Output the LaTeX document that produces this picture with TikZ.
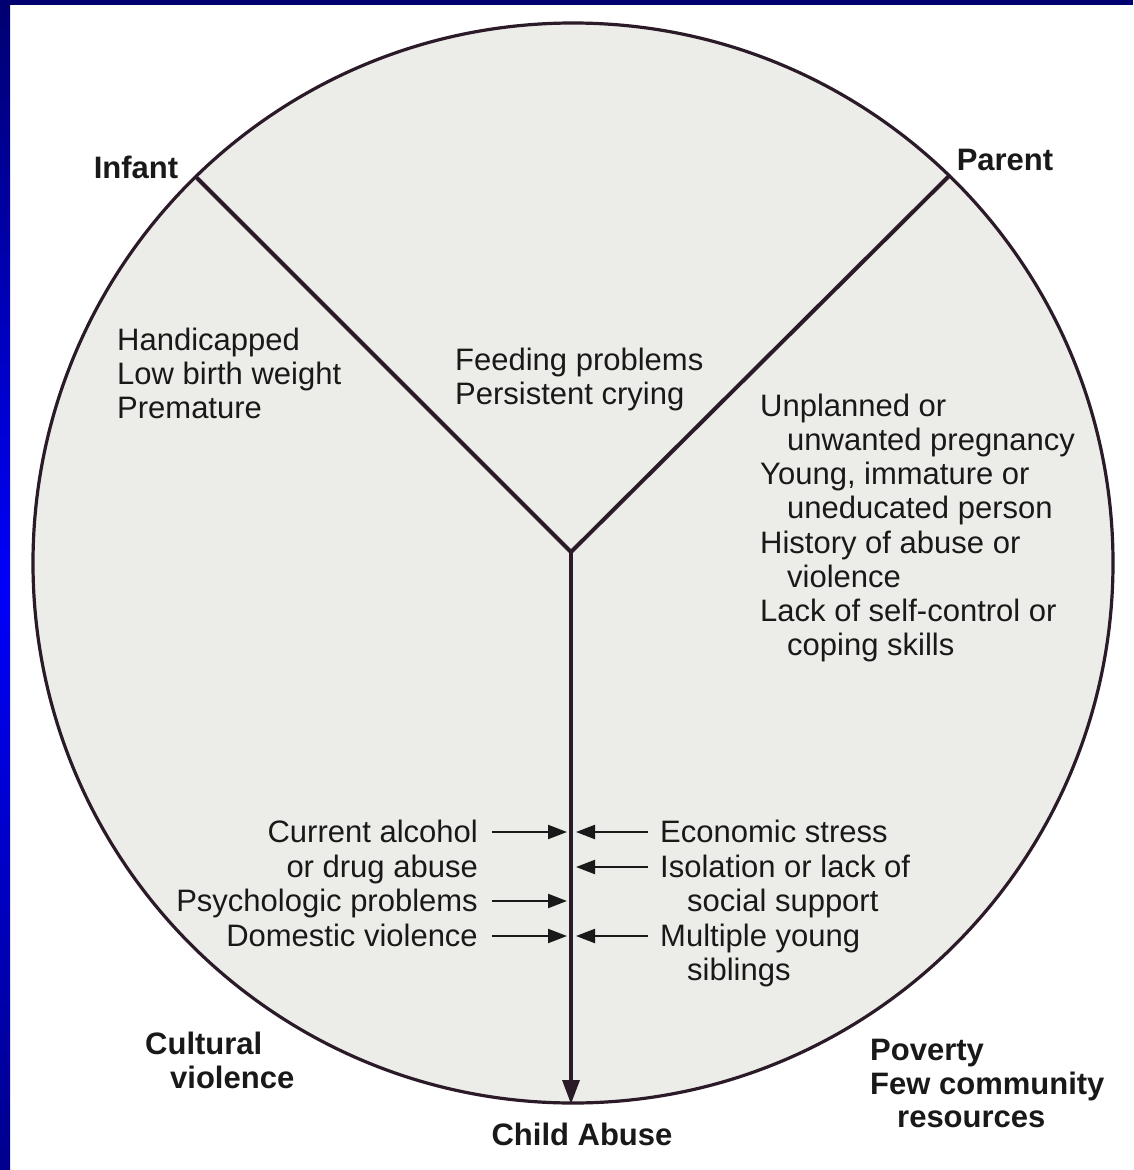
\documentclass[tikz,border=0pt]{standalone}
\usepackage{fontspec}
\setmainfont{Liberation Sans}
\usetikzlibrary{arrows.meta}
\definecolor{navy}{RGB}{0,0,112}
\definecolor{brightblue}{RGB}{0,0,250}
\definecolor{bottomblue}{RGB}{0,0,140}
\definecolor{disc}{RGB}{236,237,232}
\definecolor{ink}{RGB}{43,26,40}
\definecolor{txt}{RGB}{25,25,25}
\tikzset{
  body/.style={font=\fontsize{31}{34}\selectfont, text=txt, inner sep=0pt},
  head/.style={font=\fontsize{31}{34}\selectfont\bfseries, text=txt, inner sep=0pt},
  spoke/.style={draw=ink, line width=4pt, line cap=round},
  feed/.style={draw=txt, line width=2.2pt, -{Triangle[length=19pt,width=14pt]}},
}
\begin{document}
\begin{tikzpicture}[x=1pt,y=-1pt]
\useasboundingbox (0,0) rectangle (1133,1170);
\fill[white] (0,0) rectangle (1133,1170);
\shade[top color=navy, bottom color=bottomblue, middle color=brightblue] (0,0) rectangle (10,1170);
\fill[navy] (0,0) rectangle (1133,5);

% disc
\fill[disc] (573,563) circle[radius=540];
\draw[ink, line width=3.2pt] (573,563) circle[radius=540];

\coordinate (J) at (571,552);
\coordinate (inf) at (197,178);
\coordinate (par) at (949,176);
\coordinate (bot) at (571,1104);
\draw[spoke] (inf) -- (J) -- (par);
\draw[draw=ink, line width=3.2pt, -{Triangle[length=24pt,width=17pt]}] (J) -- (bot);

% headings
\node[head, anchor=base] (tinf) at (136,178) {Infant};
\node[head, anchor=base] (tpar) at (1005,170) {Parent};
\node[head, anchor=base west] (tcul1) at (145,1054) {Cultural};
\node[head, anchor=base west] (tcul2) at (170,1088) {violence};
\node[head, anchor=base west] (tpov1) at (870,1060) {Poverty};
\node[head, anchor=base west] (tpov2) at (870,1094) {Few community};
\node[head, anchor=base west] (tpov3) at (897,1127) {resources};
\node[head, anchor=base] (tca) at (582,1145) {Child Abuse};

% infant factors
\node[body, anchor=base west] (i1) at (117,350) {Handicapped};
\node[body, anchor=base west] (i2) at (117,384) {Low birth weight};
\node[body, anchor=base west] (i3) at (117,418) {Premature};

% middle
\node[body, anchor=base west] (m1) at (455,370) {Feeding problems};
\node[body, anchor=base west] (m2) at (455,404) {Persistent crying};

% parent factors
\node[body, anchor=base west] (p1) at (760,416) {Unplanned or};
\node[body, anchor=base west] (p2) at (787,450) {unwanted pregnancy};
\node[body, anchor=base west] (p3) at (760,484) {Young, immature or};
\node[body, anchor=base west] (p4) at (787,518) {uneducated person};
\node[body, anchor=base west] (p5) at (760,553) {History of abuse or};
\node[body, anchor=base west] (p6) at (787,587) {violence};
\node[body, anchor=base west] (p7) at (760,621) {Lack of self-control or};
\node[body, anchor=base west] (p8) at (787,655) {coping skills};

% left triggers
\node[body, anchor=base east] (l1) at (478,842) {Current alcohol};
\node[body, anchor=base east] (l2) at (478,877) {or drug abuse};
\node[body, anchor=base east] (l3) at (478,911) {Psychologic problems};
\node[body, anchor=base east] (l4) at (478,946) {Domestic violence};

% right triggers
\node[body, anchor=base west] (r1) at (660,842) {Economic stress};
\node[body, anchor=base west] (r2) at (660,877) {Isolation or lack of};
\node[body, anchor=base west] (r3) at (687,911) {social support};
\node[body, anchor=base west] (r4) at (660,946) {Multiple young};
\node[body, anchor=base west] (r5) at (687,980) {siblings};

% arrow end points
\coordinate (la1) at (492,832);
\coordinate (lb1) at (567,832);
\coordinate (la3) at (492,901);
\coordinate (lb3) at (567,901);
\coordinate (la4) at (492,936);
\coordinate (lb4) at (567,936);
\coordinate (ra1) at (648,832);
\coordinate (rb1) at (576,832);
\coordinate (ra2) at (648,867);
\coordinate (rb2) at (576,867);
\coordinate (ra4) at (648,936);
\coordinate (rb4) at (576,936);
\draw[feed] (la1) -- (lb1);
\draw[feed] (la3) -- (lb3);
\draw[feed] (la4) -- (lb4);
\draw[feed] (ra1) -- (rb1);
\draw[feed] (ra2) -- (rb2);
\draw[feed] (ra4) -- (rb4);
\end{tikzpicture}
\end{document}
